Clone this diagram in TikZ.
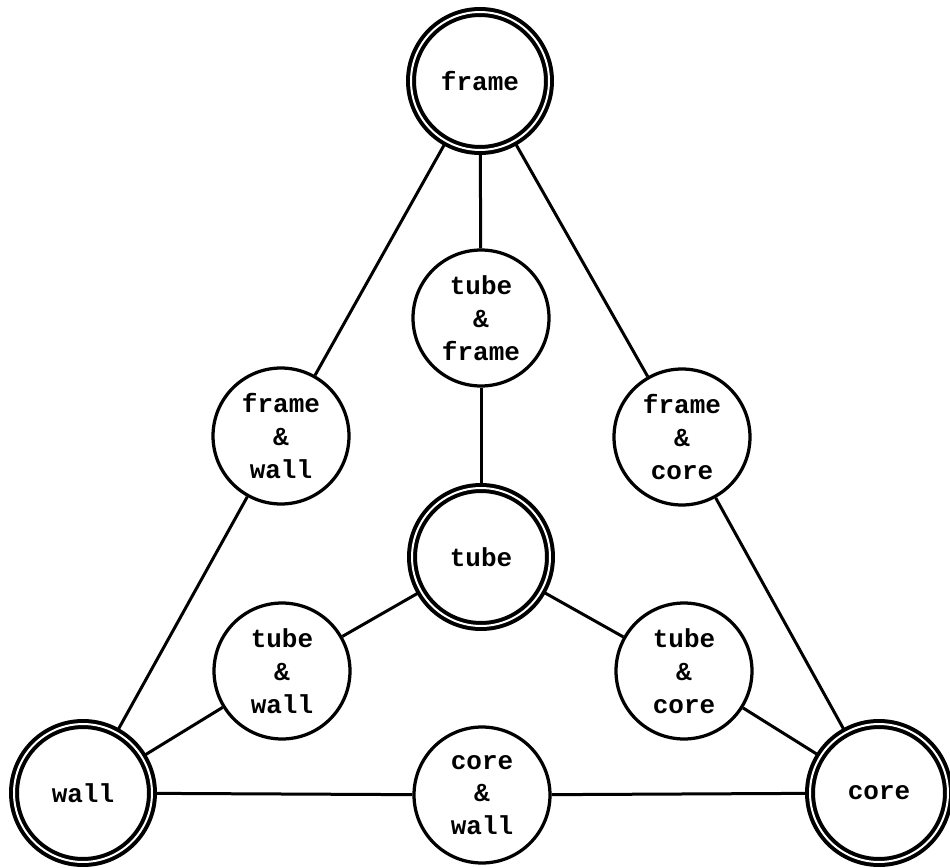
\documentclass[tikz,border=0pt]{standalone}
\usepackage{fontspec}
\setmainfont{Liberation Mono}
\begin{document}
\begin{tikzpicture}[x=0.02cm,y=-0.02cm,
  lbl/.style={align=center,inner sep=0pt,font=\fontsize{14.8pt}{18.7pt}\selectfont\bfseries},
  pure/.style={lbl,circle,draw,line width=0.08cm,double,double distance=0.04cm,minimum size=2.76cm},
  mixed/.style={lbl,circle,draw,line width=0.065cm,minimum size=2.72cm},
  link/.style={line width=0.06cm}]
\useasboundingbox (0,0) rectangle (950,868);
\fill[white] (0,0) rectangle (950,868);
\node[pure]  (frame) at (480,81)  {frame};
\node[pure]  (tube)  at (481,557) {tube};
\node[pure]  (wall)  at (83,793)  {wall};
\node[pure]  (core)  at (879,793) {core};
\node[mixed] (tf) at (481,318) {tube\\\&\\frame};
\node[mixed] (fw) at (281,436) {frame\\\&\\wall};
\node[mixed] (fc) at (682,437) {frame\\\&\\core};
\node[mixed] (tw) at (282,671) {tube\\\&\\wall};
\node[mixed] (tc) at (684,671) {tube\\\&\\core};
\node[mixed] (cw) at (482,795) {core\\\&\\wall};
\draw[link] (frame) -- (tf);
\draw[link] (frame) -- (fw);
\draw[link] (frame) -- (fc);
\draw[link] (tf) -- (tube);
\draw[link] (fw) -- (wall);
\draw[link] (fc) -- (core);
\draw[link] (tube) -- (tw);
\draw[link] (tube) -- (tc);
\draw[link] (tw) -- (wall);
\draw[link] (tc) -- (core);
\draw[link] (wall) -- (cw);
\draw[link] (cw) -- (core);
\end{tikzpicture}
\end{document}
